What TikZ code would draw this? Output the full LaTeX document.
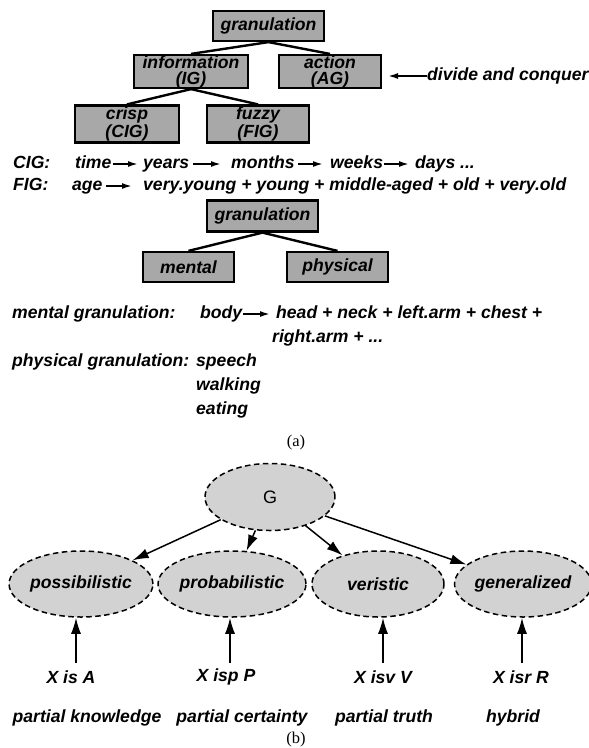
\documentclass[tikz,border=0pt]{standalone}
\usepackage{fontspec}
\setmainfont{Liberation Sans}
\newfontfamily\capfont{Liberation Serif}
\usetikzlibrary{shapes.geometric,arrows.meta}
\begin{document}
\begin{tikzpicture}[x=1pt,y=-1pt,
  every node/.style={font=\fontsize{17.6}{16}\selectfont\bfseries\itshape, inner sep=0pt},
  gbox/.style={draw, line width=2.2pt, fill=gray!68, align=center},
  txt/.style={anchor=base west, text height=12pt, text depth=4pt},
  tline/.style={line width=2.4pt},
  arrA/.style={-{Latex[length=10pt,width=6pt]}, line width=1.7pt},
  ell/.style={ellipse, draw, fill=gray!35, line width=1.5pt, dash pattern=on 5.5pt off 3.5pt, minimum width=132pt, minimum height=66pt},
  arrB/.style={-{Latex[length=16pt,width=10pt]}, line width=1.5pt},
  captxt/.style={font=\fontsize{16.5}{18}\selectfont\capfont}
]
\useasboundingbox (0,0) rectangle (589,748);

% ---------- (a) first tree
\node[gbox, minimum width=111pt, minimum height=30pt] (g1) at (268.5,26) {granulation};
\node[gbox, minimum width=114pt, minimum height=33pt] (info) at (191,71.5) {information\\(IG)};
\node[gbox, minimum width=102pt, minimum height=33pt] (act) at (330,71.5) {action\\(AG)};
\node[gbox, minimum width=104pt, minimum height=37pt] (crisp) at (127,124) {crisp\\(CIG)};
\node[gbox, minimum width=102pt, minimum height=37pt] (fuzzy) at (258,124) {fuzzy\\(FIG)};
\draw[tline] (g1.south) -- (info.north);
\draw[tline] (g1.south) -- (act.north);
\draw[tline] (info.south) -- (crisp.north);
\draw[tline] (info.south) -- (fuzzy.north);

\node[txt] (dc) at (427,80) {divide and conquer};
\coordinate (dcend) at (388,76);
\draw[arrA] (dc.west) -- (dcend);

% CIG row
\node[txt] (cig) at (13,168) {CIG:};
\node[txt] (time) at (75,168) {time};
\node[txt] (years) at (143,168) {years};
\node[txt] (months) at (231,168) {months};
\node[txt] (weeks) at (330,168) {weeks};
\node[txt] (days) at (415,168) {days ...};
\draw[arrA, shorten <=1pt, shorten >=5pt] (time.east) -- (years.west);
\draw[arrA, shorten <=4pt, shorten >=10pt] (years.east) -- (months.west);
\draw[arrA, shorten <=3pt, shorten >=7pt] (months.east) -- (weeks.west);
\draw[arrA, shorten <=1pt, shorten >=6pt] (weeks.east) -- (days.west);

% FIG row
\node[txt] (fig) at (13,190) {FIG:};
\node[txt] (age) at (72,190) {age};
\node[txt] (vy) at (143,190) {very.young + young + middle-aged + old + very.old};
\draw[arrA, shorten <=3pt, shorten >=11pt] (age.east) -- (vy.west);

% second tree
\node[gbox, minimum width=111pt, minimum height=31pt] (g2) at (262.5,216) {granulation};
\node[gbox, minimum width=91pt, minimum height=30pt] (mental) at (188.5,267) {mental};
\node[gbox, minimum width=101pt, minimum height=30pt] (phys) at (337.5,267) {physical};
\draw[tline] (g2.south) -- (mental.north);
\draw[tline] (g2.south) -- (phys.north);

\node[txt] (mg) at (12,318) {mental granulation:};
\node[txt] (body) at (200,318) {body};
\node[txt] (head) at (276,318) {head + neck + left.arm + chest +};
\node[txt] (rarm) at (272,342) {right.arm + ...};
\draw[arrA, shorten <=1pt, shorten >=6pt] (body.east) -- (head.west);
\node[txt] (pg) at (12,366) {physical granulation:};
\node[txt] (speech) at (196,366) {speech};
\node[txt] (walk) at (196,390) {walking};
\node[txt] (eat) at (196,414) {eating};

\node[captxt] (capa) at (296,443) {(a)};

% ---------- (b)
\node[ell, minimum width=130pt, minimum height=67pt, font=\fontsize{18}{20}\selectfont\mdseries\upshape] (G) at (270,497) {G};
\node[ell] (poss) at (81,584) {possibilistic};
\node[ell] (prob) at (232,584) {probabilistic};
\node[ell] (ver) at (378,584) {veristic};
\node[ell] (gen) at (523,584) {generalized};
\draw[arrB] (G) -- (poss);
\draw[arrB] (G) -- (prob);
\draw[arrB] (G) -- (ver);
\draw[arrB] (G) -- (gen);

\node (xa) at (71,677) {X is A};
\node (xp) at (226,677) {X isp P};
\node (xv) at (383,677) {X isv V};
\node (xr) at (521,677) {X isr R};
\coordinate (a1) at (76,663);
\coordinate (a2) at (230,663);
\coordinate (a3) at (383,663);
\coordinate (a4) at (522,663);
\draw[arrB] (a1) -- (a1 |- poss.south);
\draw[arrB] (a2) -- (a2 |- prob.south);
\draw[arrB] (a3) -- (a3 |- ver.south);
\draw[arrB] (a4) -- (a4 |- gen.south);

\node (pk) at (87,718) {partial knowledge};
\node (pc) at (242,718) {partial certainty};
\node (pt) at (384,718) {partial truth};
\node (hy) at (513,718) {hybrid};

\node[captxt] (capb) at (296,740) {(b)};
\end{tikzpicture}
\end{document}
